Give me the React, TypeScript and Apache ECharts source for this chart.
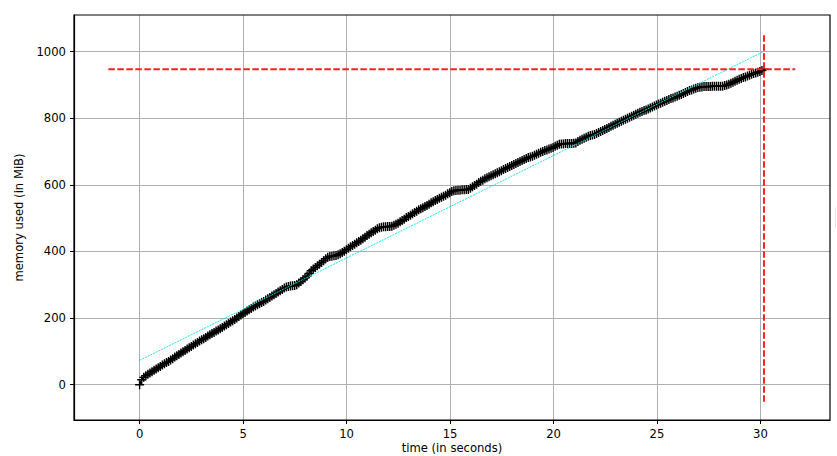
import React, { useEffect, useRef } from "react";
import * as echarts from "echarts";

// memory samples (MiB), one per ~0.1 s
const memoryValues: number[] = [
  0, 15, 22, 27, 31, 35, 39, 43, 47, 51,
  55, 59, 63, 67, 70, 74, 78, 83, 87, 91,
  95, 99, 103, 107, 111, 115, 119, 123, 127, 131,
  135, 138, 142, 146, 150, 154, 157, 161, 164, 168,
  172, 176, 180, 184, 188, 192, 196, 200, 205, 209,
  213, 217, 221, 225, 229, 233, 236, 240, 243, 247,
  250, 254, 258, 262, 266, 270, 274, 278, 282, 286,
  290, 293, 295, 296, 297, 298, 300, 305, 310, 315,
  320, 326, 334, 342, 347, 352, 357, 362, 367, 372,
  378, 383, 385, 386, 387, 388, 390, 393, 397, 401,
  405, 410, 414, 418, 422, 426, 430, 434, 438, 443,
  448, 452, 456, 460, 464, 468, 471, 473, 474, 474,
  475, 475, 476, 479, 482, 485, 489, 493, 497, 502,
  505, 509, 513, 517, 521, 525, 528, 531, 535, 538,
  542, 546, 549, 553, 556, 560, 563, 566, 569, 573,
  576, 580, 582, 583, 584, 584, 585, 585, 586, 586,
  590, 594, 598, 602, 607, 611, 614, 618, 621, 624,
  627, 630, 633, 636, 639, 642, 646, 649, 652, 655,
  658, 661, 664, 667, 670, 673, 676, 679, 682, 684,
  686, 689, 692, 695, 698, 700, 703, 705, 708, 710,
  712, 716, 719, 722, 723, 723, 724, 724, 724, 724,
  725, 726, 730, 734, 737, 740, 743, 746, 748, 750,
  751, 754, 757, 760, 763, 766, 769, 772, 776, 779,
  782, 785, 788, 791, 794, 797, 800, 803, 806, 809,
  812, 815, 818, 820, 823, 825, 828, 831, 834, 837,
  840, 843, 845, 848, 851, 853, 856, 859, 861, 864,
  866, 869, 871, 874, 877, 880, 883, 885, 888, 890,
  892, 893, 894, 895, 895, 895, 895, 896, 896, 896,
  896, 896, 896, 898, 900, 902, 905, 908, 911, 914,
  917, 919, 922, 924, 927, 929, 932, 934, 936, 938,
  940, 943, 947,
];
const totalDuration = 30.17; // seconds, time of last sample

// trend line endpoints [time, MiB]
const trendLine: number[][] = [
  [0, 73],
  [30.17, 1001],
];
// peak memory markers
const peakMemory = 947;
const peakTime = 30.17;
const hLineX: number[] = [-1.51, 31.68];
const vLineY: number[] = [-51, 1057];

const xTicks: number[] = [0, 5, 10, 15, 20, 25, 30];
const yTicks: number[] = [0, 200, 400, 600, 800, 1000];
const xRange: number[] = [-3.17, 33.36];
const yRange: number[] = [-106, 1110];

const FONT = "DejaVu Sans";

export default function App() {
  const ref = useRef<HTMLDivElement>(null);
  useEffect(() => {
    if (!ref.current) return;
    const chart = echarts.init(ref.current, null, { renderer: "svg" });
    const n = memoryValues.length;
    const memData = memoryValues.map((v, i) => [
      (i * totalDuration) / (n - 1),
      v,
    ]);
    const plusSymbol =
      "path://M4.2,0H5.8V4.2H10V5.8H5.8V10H4.2V5.8H0V4.2H4.2Z";
    const labelStyle = {
      fontFamily: FONT,
      fontSize: 11.6,
      color: "#000",
    };
    const gridLeft = 74;
    const gridTop = 15;
    const gridRight = 7;
    const gridBottom = 36;
    chart.setOption({
      animation: false,
      backgroundColor: "#fff",
      grid: {
        left: gridLeft,
        top: gridTop,
        right: gridRight,
        bottom: gridBottom,
        show: false,
        containLabel: false,
        outerBoundsMode: "none",
      },
      xAxis: {
        type: "value",
        min: xRange[0],
        max: xRange[1],
        name: "time (in seconds)",
        nameLocation: "middle",
        nameGap: 21,
        nameMoveOverlap: false,
        nameTextStyle: { ...labelStyle, lineHeight: 13 },
        axisLine: { show: true, onZero: false, lineStyle: { color: "#000", width: 1.2 } },
        axisTick: {
          show: true,
          length: 4,
          customValues: xTicks,
          lineStyle: { color: "#000", width: 1 },
        },
        axisLabel: {
          ...labelStyle,
          margin: 8,
          customValues: xTicks,
          formatter: (v: number) => String(v),
        },
        splitLine: { show: true, lineStyle: { color: "#b0b0b0", width: 1 } },
      },
      yAxis: {
        type: "value",
        min: yRange[0],
        max: yRange[1],
        name: "memory used (in MiB)",
        nameLocation: "middle",
        nameRotate: 90,
        nameGap: 49,
        nameMoveOverlap: false,
        nameTextStyle: { ...labelStyle },
        axisLine: { show: true, onZero: false, lineStyle: { color: "#000", width: 1.2 } },
        axisTick: {
          show: true,
          length: 4,
          customValues: yTicks,
          lineStyle: { color: "#000", width: 1 },
        },
        axisLabel: {
          ...labelStyle,
          margin: 8,
          customValues: yTicks,
          formatter: (v: number) => String(v),
        },
        splitLine: { show: true, lineStyle: { color: "#b0b0b0", width: 1 } },
      },
      series: [
        {
          type: "line",
          data: memData,
          symbol: plusSymbol,
          symbolSize: 9,
          showSymbol: true,
          showAllSymbol: true,
          itemStyle: { color: "#000", borderWidth: 0 },
          lineStyle: { color: "#000", width: 1.5 },
          emphasis: { disabled: true },
          z: 3,
        },
        {
          type: "line",
          data: trendLine,
          showSymbol: false,
          symbol: "none",
          lineStyle: { color: "#00e8e8", width: 0.9, type: [2, 1] },
          z: 4,
        },
        {
          type: "line",
          data: [
            [hLineX[0], peakMemory],
            [hLineX[1], peakMemory],
          ],
          showSymbol: false,
          symbol: "none",
          lineStyle: { color: "#ff2020", width: 2, type: [6.5, 2.5] },
          z: 5,
        },
        {
          type: "line",
          data: [
            [peakTime, vLineY[0]],
            [peakTime, vLineY[1]],
          ],
          showSymbol: false,
          symbol: "none",
          lineStyle: { color: "#ff2020", width: 2, type: [6.5, 2.5] },
          z: 5,
        },
      ],
      graphic: [
        {
          type: "rect",
          shape: {
            x: gridLeft,
            y: gridTop,
            width: 837 - gridLeft - gridRight,
            height: 456 - gridTop - gridBottom,
          },
          style: { fill: "none", stroke: "#000", lineWidth: 1.2 },
          silent: true,
          z: 10,
        },
        {
          type: "rect",
          shape: { x: 835, y: 207, width: 1, height: 21 },
          style: { fill: "#e4e4e4" },
          silent: true,
        },
      ],
    });
    return () => chart.dispose();
  }, []);
  return (
    <div
      ref={ref}
      style={{ position: "fixed", left: 0, top: 0, width: 837, height: 456 }}
    />
  );
}
